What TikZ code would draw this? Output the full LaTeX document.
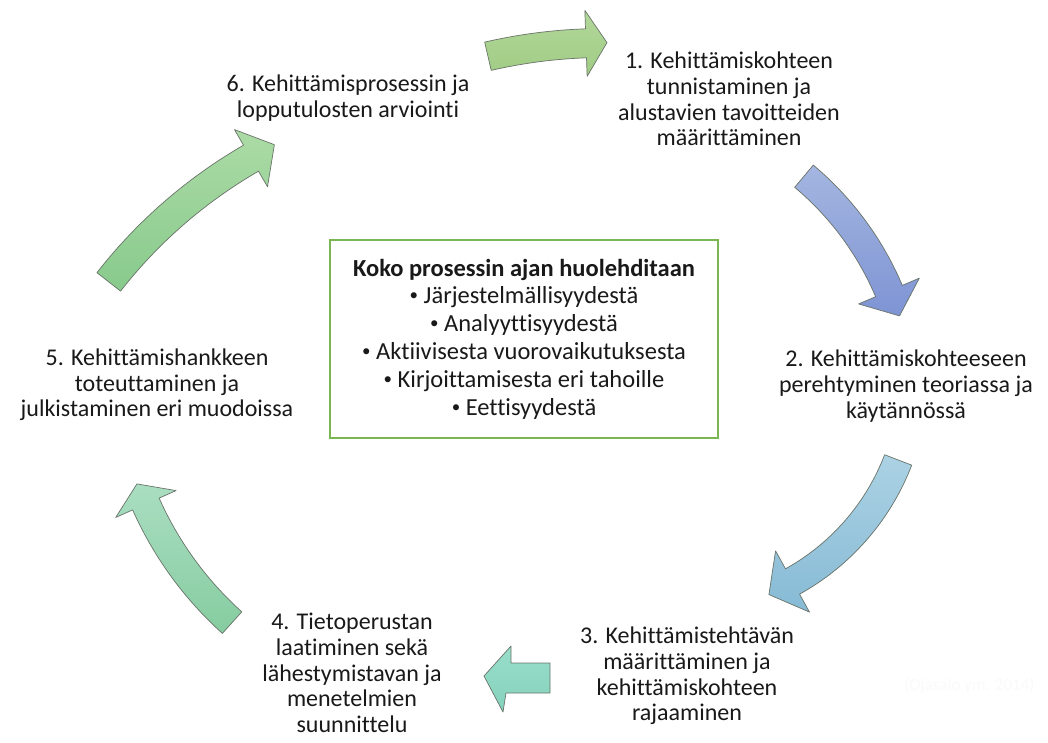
\documentclass[tikz,border=0pt]{standalone}
\usepackage{fontspec}
\setmainfont{Carlito}[Ligatures=NoCommon]
\definecolor{boxgreen}{RGB}{122,182,84}
\definecolor{edgegray}{RGB}{105,115,105}
\newcommand\cyclearrow[9]{%
  \draw[barrow,#1,shift={(#2,#3)}]
    plot[domain=#5:#6,samples=40] (\x:{#4+#7})
    -- (#6:{#4+#8})
    -- ({#6+atan(#9/#4)}:{#4/cos(atan(#9/#4))})
    -- (#6:{#4-#8})
    -- plot[domain=#6:#5,samples=40] (\x:{#4-#7})
    -- cycle;}
\newcommand\smbul{\raisebox{0.12em}{\fontsize{17}{17}\selectfont •}}
\begin{document}
\begin{tikzpicture}[x=1pt,y=-1pt,
  lbl/.style={align=center,font=\fontsize{24}{25.6}\selectfont,text=black!90,inner sep=0pt},
  barrow/.style={draw=edgegray,line width=0.7pt,line join=round},
  carebox/.style={draw=boxgreen,line width=1.6pt,align=center,minimum width=388,minimum height=198,
    font=\fontsize{24.5}{27.8}\selectfont,text=black!90,inner sep=0pt}]
\useasboundingbox (0,0) rectangle (1048,743);
\fill[white] (0,0) rectangle (1048,743);

% text nodes
\node[lbl] (s1) at (729,99) {1. Kehittämiskohteen\\tunnistaminen ja\\alustavien tavoitteiden\\määrittäminen};
\node[lbl] (s2) at (906,386) {2. Kehittämiskohteeseen\\perehtyminen teoriassa ja\\käytännössä};
\node[lbl] (s3) at (687,676) {3. Kehittämistehtävän\\määrittäminen ja\\kehittämiskohteen\\rajaaminen};
\node[lbl] (s4) at (352,673) {4. Tietoperustan\\laatiminen sekä\\lähestymistavan ja\\menetelmien\\suunnittelu};
\node[lbl] (s5) at (157,385) {5. Kehittämishankkeen\\toteuttaminen ja\\julkistaminen eri muodoissa};
\node[lbl] (s6) at (348,98) {6. Kehittämisprosessin ja\\lopputulosten arviointi};

\node[carebox] (care) at (524,339) {\textbf{Koko prosessin ajan huolehditaan}\\\smbul\ Järjestelmällisyydestä\\\smbul\ Analyyttisyydestä\\\smbul\ Aktiivisesta vuorovaikutuksesta\\\smbul\ Kirjoittamisesta eri tahoille\\\smbul\ Eettisyydestä};

\node[anchor=west,text=black!2,font=\fontsize{17}{20}\selectfont,inner sep=0pt] (src) at (904,686) {(Ojasalo ym. 2014)};

% block arrows of the cycle
\cyclearrow{top color={rgb,255:red,178;green,215;blue,154},bottom color={rgb,255:red,160;green,204;blue,132}}{604}{559}{516}{-103}{-92}{14.5}{33}{21}
\cyclearrow{top color={rgb,255:red,164;green,182;blue,224},bottom color={rgb,255:red,126;green,148;blue,212}}{607.3}{410.6}{306}{-50}{-23}{14.5}{33}{27}
\cyclearrow{top color={rgb,255:red,172;green,210;blue,228},bottom color={rgb,255:red,134;green,186;blue,213}}{678.4}{375.6}{235.4}{21}{61}{14.5}{35}{27}
\draw[barrow,top color={rgb,255:red,152;green,222;blue,202},bottom color={rgb,255:red,134;green,210;blue,188}]
  (550,663) -- (511,663) -- (511,646) -- (484,676) -- (503,712) -- (506,693) -- (550,693) -- cycle;
\cyclearrow{top color={rgb,255:red,170;green,222;blue,194},bottom color={rgb,255:red,134;green,204;blue,160}}{468}{360.6}{352.6}{132}{156}{14.5}{33}{22}
\cyclearrow{top color={rgb,255:red,172;green,219;blue,166},bottom color={rgb,255:red,136;green,202;blue,140}}{498}{586}{494}{-142}{-120}{15}{33}{27}
\end{tikzpicture}
\end{document}
